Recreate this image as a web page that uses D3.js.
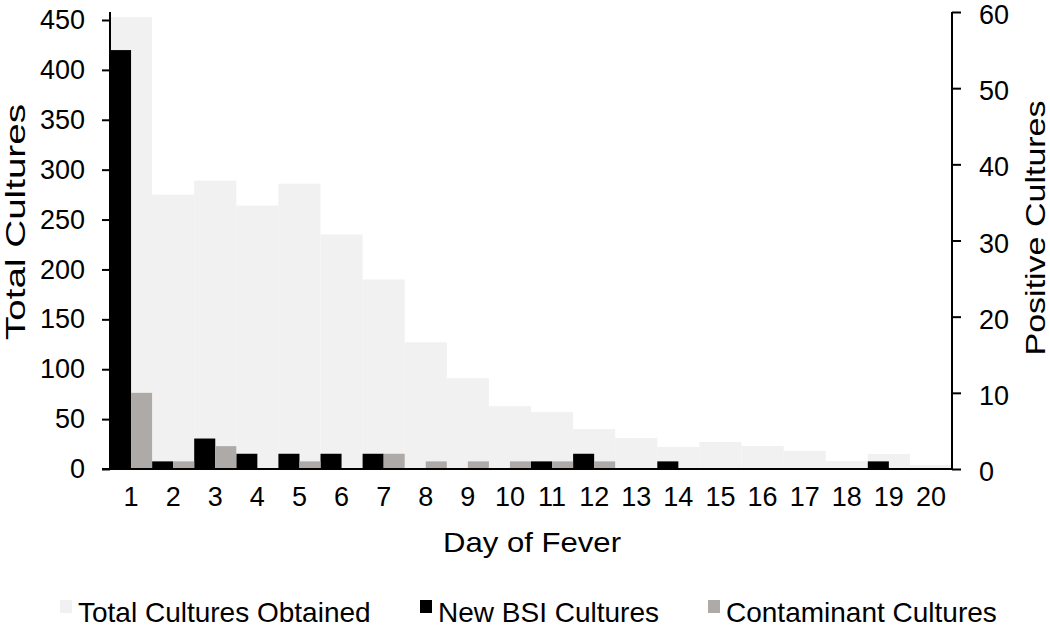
<!DOCTYPE html>
<html><head><meta charset="utf-8">
<script src="https://cdn.jsdelivr.net/npm/d3@7"></script>
<style>body{margin:0;background:#fff}svg{display:block}text{font-family:"Liberation Sans",Arial,sans-serif;fill:#000}</style>
</head><body>
<svg id="c" width="1050" height="632"></svg>
<script>
const days = [1,2,3,4,5,6,7,8,9,10,11,12,13,14,15,16,17,18,19,20];
const totalCultures = [453,275,289,264,286,235,190,127,91,63,57,40,31,22,27,23,18,8,15,4];
const newBSI = [55,1,4,2,2,2,2,0,0,0,1,2,0,1,0,0,0,0,1,0];
const contaminant = [10,1,3,0,1,0,2,1,1,1,1,1,0,0,0,0,0,0,0,0];
const leftTicks = [0,50,100,150,200,250,300,350,400,450];
const rightTicks = [0,10,20,30,40,50,60];
const legendLabels = ["Total Cultures Obtained","New BSI Cultures","Contaminant Cultures"];
const colors = ["#f1f1f1","#000000","#aeaaa7"];

const svg = d3.select("#c");
const L = 110, R = 952, T = 12, B = 469;
const x = d3.scaleBand().domain(days).range([L, R]).padding(0);
const yL = d3.scaleLinear().domain([0, 450 * (B - T) / (B - 20)]).range([B, T]);
const yR = d3.scaleLinear().domain([0, 60]).range([B, T]);

svg.append("g").selectAll("rect").data(days).join("rect")
  .attr("x", d => x(d)).attr("width", x.bandwidth())
  .attr("y", (d,i) => yL(totalCultures[i])).attr("height", (d,i) => B - yL(totalCultures[i]))
  .attr("fill", colors[0]);
svg.append("g").selectAll("rect").data(days).join("rect")
  .attr("x", d => x(d)).attr("width", x.bandwidth()/2)
  .attr("y", (d,i) => yR(newBSI[i])).attr("height", (d,i) => B - yR(newBSI[i]))
  .attr("fill", colors[1]);
svg.append("g").selectAll("rect").data(days).join("rect")
  .attr("x", d => x(d) + x.bandwidth()/2).attr("width", x.bandwidth()/2)
  .attr("y", (d,i) => yR(contaminant[i])).attr("height", (d,i) => B - yR(contaminant[i]))
  .attr("fill", colors[2]);

const fs = "27px";
const gl = svg.append("g").attr("transform", `translate(${L},0)`)
  .call(d3.axisLeft(yL).tickValues(leftTicks).tickSize(8).tickPadding(17).tickSizeOuter(0));
const gr = svg.append("g").attr("transform", `translate(${R},0)`)
  .call(d3.axisRight(yR).tickValues(rightTicks).tickSize(9).tickPadding(18).tickSizeOuter(0));
const gb = svg.append("g").attr("transform", `translate(0,${B})`)
  .call(d3.axisBottom(x).tickSize(0).tickPadding(18));
[gl, gr, gb].forEach(g => {
  g.selectAll("path.domain").attr("stroke", "#000").attr("stroke-width", 2);
  g.selectAll(".tick line").attr("stroke", "#000").attr("stroke-width", 2);
  g.selectAll("text").attr("font-size", fs).attr("font-family", '"Liberation Sans",Arial,sans-serif').attr("fill", "#000");
});
gr.selectAll(".tick text").attr("y", 3);
gl.select("path.domain").attr("d", `M0,${T}V${B}`);
gr.select("path.domain").attr("d", `M0,${T}V${B}`);
gb.select("path.domain").attr("d", `M${L-8},0H${R}`);

svg.append("text").attr("transform", "translate(25,222) rotate(-90)")
  .attr("text-anchor", "middle").attr("font-size", "28px")
  .attr("textLength", 236).attr("lengthAdjust", "spacingAndGlyphs").text("Total Cultures");
svg.append("text").attr("transform", "translate(1045,228) rotate(-90)")
  .attr("text-anchor", "middle").attr("font-size", "28px")
  .attr("textLength", 255).attr("lengthAdjust", "spacingAndGlyphs").text("Positive Cultures");
svg.append("text").attr("x", 532).attr("y", 552)
  .attr("text-anchor", "middle").attr("font-size", "28px")
  .attr("textLength", 178).attr("lengthAdjust", "spacingAndGlyphs").text("Day of Fever");

const legX = [60, 420, 708];
const lg = svg.append("g");
legendLabels.forEach((lab, i) => {
  lg.append("rect").attr("x", legX[i]).attr("y", 600).attr("width", 12).attr("height", 13).attr("fill", colors[i]);
  lg.append("text").attr("x", legX[i] + 18).attr("y", 622).attr("font-size", "28px").text(lab);
});
</script>
</body></html>
